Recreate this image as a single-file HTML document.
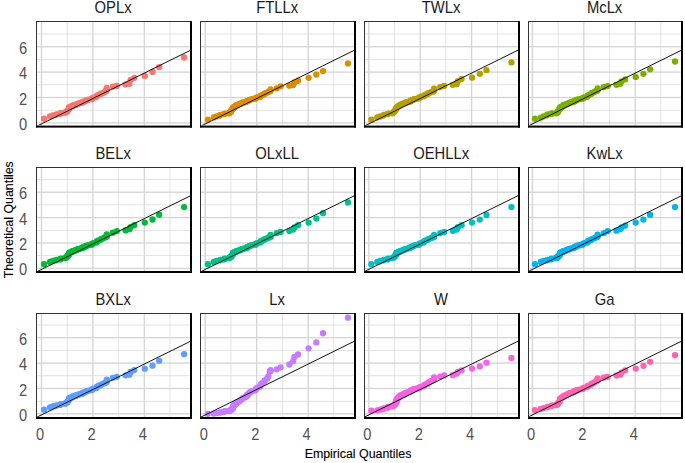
<!DOCTYPE html>
<html><head><meta charset="utf-8"><title>QQ plots</title>
<style>
html,body{margin:0;padding:0;background:#fff;}
body{width:685px;height:463px;overflow:hidden;position:relative;font-family:"Liberation Sans",sans-serif;}
svg{position:absolute;left:0;top:0;display:block;}
svg text{font-family:"Liberation Sans",sans-serif;}
</style></head><body>
<svg width="685" height="463" viewBox="0 0 685 463">
<rect x="0" y="0" width="685" height="463" fill="#ffffff"/>
<defs>
<clipPath id="cp00"><rect x="37" y="22" width="153" height="103.6"/></clipPath>
<clipPath id="cp01"><rect x="201" y="22" width="153" height="103.6"/></clipPath>
<clipPath id="cp02"><rect x="365" y="22" width="153" height="103.6"/></clipPath>
<clipPath id="cp03"><rect x="529" y="22" width="152" height="103.6"/></clipPath>
<clipPath id="cp10"><rect x="37" y="168" width="153" height="103"/></clipPath>
<clipPath id="cp11"><rect x="201" y="168" width="153" height="103"/></clipPath>
<clipPath id="cp12"><rect x="365" y="168" width="153" height="103"/></clipPath>
<clipPath id="cp13"><rect x="529" y="168" width="152" height="103"/></clipPath>
<clipPath id="cp20"><rect x="37" y="314" width="153" height="103"/></clipPath>
<clipPath id="cp21"><rect x="201" y="314" width="153" height="103"/></clipPath>
<clipPath id="cp22"><rect x="365" y="314" width="153" height="103"/></clipPath>
<clipPath id="cp23"><rect x="529" y="314" width="152" height="103"/></clipPath>
</defs>
<g clip-path="url(#cp00)"><rect x="36" y="122.25" width="154" height="1.3" fill="#D4D4D4"/><rect x="36" y="109.88" width="154" height="0.65" fill="#D4D4D4"/><rect x="36" y="96.85" width="154" height="1.3" fill="#D4D4D4"/><rect x="36" y="84.48" width="154" height="0.65" fill="#D4D4D4"/><rect x="36" y="71.45" width="154" height="1.3" fill="#D4D4D4"/><rect x="36" y="59.08" width="154" height="0.65" fill="#D4D4D4"/><rect x="36" y="46.05" width="154" height="1.3" fill="#D4D4D4"/><rect x="36" y="33.68" width="154" height="0.65" fill="#D4D4D4"/><rect x="36" y="20.65" width="154" height="1.3" fill="#D4D4D4"/><rect x="40.85" y="21" width="1.3" height="104.6" fill="#D4D4D4"/><rect x="66.88" y="21" width="0.65" height="104.6" fill="#D4D4D4"/><rect x="92.25" y="21" width="1.3" height="104.6" fill="#D4D4D4"/><rect x="118.27" y="21" width="0.65" height="104.6" fill="#D4D4D4"/><rect x="143.65" y="21" width="1.3" height="104.6" fill="#D4D4D4"/><rect x="169.68" y="21" width="0.65" height="104.6" fill="#D4D4D4"/></g>
<g clip-path="url(#cp00)" fill="#F8766D"><circle cx="44.07" cy="118.70" r="3.15"/><circle cx="49.98" cy="116.42" r="3.15"/><circle cx="52.81" cy="115.49" r="3.15"/><circle cx="55.89" cy="114.80" r="3.15"/><circle cx="56.66" cy="114.37" r="3.15"/><circle cx="60.00" cy="113.94" r="3.15"/><circle cx="60.52" cy="113.50" r="3.15"/><circle cx="61.29" cy="113.07" r="3.15"/><circle cx="65.14" cy="112.71" r="3.15"/><circle cx="65.40" cy="112.36" r="3.15"/><circle cx="66.17" cy="112.02" r="3.15"/><circle cx="67.20" cy="111.54" r="3.15"/><circle cx="67.20" cy="110.93" r="3.15"/><circle cx="67.71" cy="110.33" r="3.15"/><circle cx="68.48" cy="109.72" r="3.15"/><circle cx="69.00" cy="109.12" r="3.15"/><circle cx="69.00" cy="108.51" r="3.15"/><circle cx="69.26" cy="107.91" r="3.15"/><circle cx="69.26" cy="107.69" r="3.15"/><circle cx="69.26" cy="107.47" r="3.15"/><circle cx="69.51" cy="107.25" r="3.15"/><circle cx="70.28" cy="107.03" r="3.15"/><circle cx="70.54" cy="106.82" r="3.15"/><circle cx="71.05" cy="106.60" r="3.15"/><circle cx="71.31" cy="106.38" r="3.15"/><circle cx="72.34" cy="106.17" r="3.15"/><circle cx="72.60" cy="105.96" r="3.15"/><circle cx="72.85" cy="105.75" r="3.15"/><circle cx="72.85" cy="105.54" r="3.15"/><circle cx="73.37" cy="105.32" r="3.15"/><circle cx="74.91" cy="105.11" r="3.15"/><circle cx="75.94" cy="104.75" r="3.15"/><circle cx="76.45" cy="104.38" r="3.15"/><circle cx="77.22" cy="104.02" r="3.15"/><circle cx="78.51" cy="103.65" r="3.15"/><circle cx="79.02" cy="103.29" r="3.15"/><circle cx="80.82" cy="102.93" r="3.15"/><circle cx="82.36" cy="102.59" r="3.15"/><circle cx="82.62" cy="102.25" r="3.15"/><circle cx="83.39" cy="101.91" r="3.15"/><circle cx="83.39" cy="101.57" r="3.15"/><circle cx="84.68" cy="101.23" r="3.15"/><circle cx="85.45" cy="100.88" r="3.15"/><circle cx="85.70" cy="100.54" r="3.15"/><circle cx="86.73" cy="100.17" r="3.15"/><circle cx="88.53" cy="99.70" r="3.15"/><circle cx="91.61" cy="99.22" r="3.15"/><circle cx="91.87" cy="98.75" r="3.15"/><circle cx="92.13" cy="98.28" r="3.15"/><circle cx="93.41" cy="97.73" r="3.15"/><circle cx="96.24" cy="97.04" r="3.15"/><circle cx="96.75" cy="96.36" r="3.15"/><circle cx="97.01" cy="95.68" r="3.15"/><circle cx="98.55" cy="95.00" r="3.15"/><circle cx="100.61" cy="94.32" r="3.15"/><circle cx="100.87" cy="93.55" r="3.15"/><circle cx="103.18" cy="92.79" r="3.15"/><circle cx="104.47" cy="92.03" r="3.15"/><circle cx="106.01" cy="91.14" r="3.15"/><circle cx="106.52" cy="90.25" r="3.15"/><circle cx="106.78" cy="89.36" r="3.15"/><circle cx="106.78" cy="87.97" r="3.15"/><circle cx="112.95" cy="86.57" r="3.15"/><circle cx="116.80" cy="85.94" r="3.15"/><circle cx="125.54" cy="84.41" r="3.15"/><circle cx="129.39" cy="83.78" r="3.15"/><circle cx="130.68" cy="79.84" r="3.15"/><circle cx="134.28" cy="77.87" r="3.15"/><circle cx="144.81" cy="75.90" r="3.15"/><circle cx="152.52" cy="71.97" r="3.15"/><circle cx="159.21" cy="67.08" r="3.15"/><circle cx="184.13" cy="57.49" r="3.15"/></g>
<g clip-path="url(#cp00)"><line x1="31.22" y1="128.98" x2="200.84" y2="45.16" stroke="#111" stroke-width="1"/></g>
<g fill="#1a1a1a"><rect x="36" y="21" width="1" height="106.6" fill="#333"/><rect x="36" y="21" width="156" height="1" fill="#333"/><rect x="190" y="21" width="2" height="106.6" fill="#000"/><rect x="36" y="125.6" width="156" height="2" fill="#000"/></g>
<text transform="translate(113.10,12.90) scale(1,1.12)" font-size="14.8" fill="#1a1a1a" text-anchor="middle">OPLx</text>
<text transform="translate(27.20,129.90) scale(1,1.12)" font-size="14.67" fill="#525252" text-anchor="end">0</text>
<text transform="translate(27.20,104.50) scale(1,1.12)" font-size="14.67" fill="#525252" text-anchor="end">2</text>
<text transform="translate(27.20,79.10) scale(1,1.12)" font-size="14.67" fill="#525252" text-anchor="end">4</text>
<text transform="translate(27.20,53.70) scale(1,1.12)" font-size="14.67" fill="#525252" text-anchor="end">6</text>
<g clip-path="url(#cp01)"><rect x="200" y="122.25" width="154" height="1.3" fill="#D4D4D4"/><rect x="200" y="109.88" width="154" height="0.65" fill="#D4D4D4"/><rect x="200" y="96.85" width="154" height="1.3" fill="#D4D4D4"/><rect x="200" y="84.48" width="154" height="0.65" fill="#D4D4D4"/><rect x="200" y="71.45" width="154" height="1.3" fill="#D4D4D4"/><rect x="200" y="59.08" width="154" height="0.65" fill="#D4D4D4"/><rect x="200" y="46.05" width="154" height="1.3" fill="#D4D4D4"/><rect x="200" y="33.68" width="154" height="0.65" fill="#D4D4D4"/><rect x="200" y="20.65" width="154" height="1.3" fill="#D4D4D4"/><rect x="204.65" y="21" width="1.3" height="104.6" fill="#D4D4D4"/><rect x="230.68" y="21" width="0.65" height="104.6" fill="#D4D4D4"/><rect x="256.05" y="21" width="1.3" height="104.6" fill="#D4D4D4"/><rect x="282.07" y="21" width="0.65" height="104.6" fill="#D4D4D4"/><rect x="307.45" y="21" width="1.3" height="104.6" fill="#D4D4D4"/><rect x="333.48" y="21" width="0.65" height="104.6" fill="#D4D4D4"/></g>
<g clip-path="url(#cp01)" fill="#DE8C00"><circle cx="207.87" cy="119.72" r="3.15"/><circle cx="213.78" cy="117.43" r="3.15"/><circle cx="216.61" cy="116.41" r="3.15"/><circle cx="219.69" cy="115.56" r="3.15"/><circle cx="220.46" cy="114.85" r="3.15"/><circle cx="223.80" cy="114.21" r="3.15"/><circle cx="224.32" cy="113.89" r="3.15"/><circle cx="225.09" cy="113.58" r="3.15"/><circle cx="228.94" cy="113.26" r="3.15"/><circle cx="229.20" cy="112.94" r="3.15"/><circle cx="229.97" cy="112.48" r="3.15"/><circle cx="231.00" cy="111.72" r="3.15"/><circle cx="231.00" cy="110.95" r="3.15"/><circle cx="231.51" cy="110.19" r="3.15"/><circle cx="232.29" cy="109.43" r="3.15"/><circle cx="232.80" cy="108.91" r="3.15"/><circle cx="232.80" cy="108.63" r="3.15"/><circle cx="233.06" cy="108.35" r="3.15"/><circle cx="233.06" cy="108.07" r="3.15"/><circle cx="233.06" cy="107.79" r="3.15"/><circle cx="233.31" cy="107.50" r="3.15"/><circle cx="234.08" cy="107.22" r="3.15"/><circle cx="234.34" cy="106.94" r="3.15"/><circle cx="234.86" cy="106.66" r="3.15"/><circle cx="235.11" cy="106.38" r="3.15"/><circle cx="236.14" cy="106.07" r="3.15"/><circle cx="236.40" cy="105.76" r="3.15"/><circle cx="236.65" cy="105.44" r="3.15"/><circle cx="236.65" cy="105.13" r="3.15"/><circle cx="237.17" cy="104.82" r="3.15"/><circle cx="238.71" cy="104.51" r="3.15"/><circle cx="239.74" cy="104.16" r="3.15"/><circle cx="240.25" cy="103.78" r="3.15"/><circle cx="241.02" cy="103.40" r="3.15"/><circle cx="242.31" cy="103.02" r="3.15"/><circle cx="242.82" cy="102.64" r="3.15"/><circle cx="244.62" cy="102.27" r="3.15"/><circle cx="246.16" cy="101.93" r="3.15"/><circle cx="246.42" cy="101.59" r="3.15"/><circle cx="247.19" cy="101.26" r="3.15"/><circle cx="247.19" cy="100.92" r="3.15"/><circle cx="248.48" cy="100.58" r="3.15"/><circle cx="249.25" cy="100.24" r="3.15"/><circle cx="249.50" cy="99.90" r="3.15"/><circle cx="250.53" cy="99.55" r="3.15"/><circle cx="252.33" cy="99.16" r="3.15"/><circle cx="255.42" cy="98.77" r="3.15"/><circle cx="255.67" cy="98.37" r="3.15"/><circle cx="255.93" cy="97.98" r="3.15"/><circle cx="257.21" cy="97.50" r="3.15"/><circle cx="260.04" cy="96.88" r="3.15"/><circle cx="260.56" cy="96.26" r="3.15"/><circle cx="260.81" cy="95.65" r="3.15"/><circle cx="262.35" cy="95.03" r="3.15"/><circle cx="264.41" cy="94.26" r="3.15"/><circle cx="264.67" cy="93.46" r="3.15"/><circle cx="266.98" cy="92.67" r="3.15"/><circle cx="268.26" cy="91.93" r="3.15"/><circle cx="269.81" cy="91.41" r="3.15"/><circle cx="270.32" cy="90.90" r="3.15"/><circle cx="270.58" cy="90.38" r="3.15"/><circle cx="270.58" cy="89.36" r="3.15"/><circle cx="276.75" cy="88.35" r="3.15"/><circle cx="280.60" cy="86.32" r="3.15"/><circle cx="289.34" cy="85.68" r="3.15"/><circle cx="293.19" cy="85.05" r="3.15"/><circle cx="294.48" cy="82.38" r="3.15"/><circle cx="298.08" cy="80.73" r="3.15"/><circle cx="308.61" cy="77.87" r="3.15"/><circle cx="316.32" cy="74.57" r="3.15"/><circle cx="323.01" cy="71.08" r="3.15"/><circle cx="347.94" cy="63.46" r="3.15"/></g>
<g clip-path="url(#cp01)"><line x1="195.02" y1="128.98" x2="364.64" y2="45.16" stroke="#111" stroke-width="1"/></g>
<g fill="#1a1a1a"><rect x="200" y="21" width="1" height="106.6" fill="#333"/><rect x="200" y="21" width="156" height="1" fill="#333"/><rect x="354" y="21" width="2" height="106.6" fill="#000"/><rect x="200" y="125.6" width="156" height="2" fill="#000"/></g>
<text transform="translate(277.10,12.90) scale(1,1.12)" font-size="14.8" fill="#1a1a1a" text-anchor="middle">FTLLx</text>
<g clip-path="url(#cp02)"><rect x="364" y="122.25" width="154" height="1.3" fill="#D4D4D4"/><rect x="364" y="109.88" width="154" height="0.65" fill="#D4D4D4"/><rect x="364" y="96.85" width="154" height="1.3" fill="#D4D4D4"/><rect x="364" y="84.48" width="154" height="0.65" fill="#D4D4D4"/><rect x="364" y="71.45" width="154" height="1.3" fill="#D4D4D4"/><rect x="364" y="59.08" width="154" height="0.65" fill="#D4D4D4"/><rect x="364" y="46.05" width="154" height="1.3" fill="#D4D4D4"/><rect x="364" y="33.68" width="154" height="0.65" fill="#D4D4D4"/><rect x="364" y="20.65" width="154" height="1.3" fill="#D4D4D4"/><rect x="368.15" y="21" width="1.3" height="104.6" fill="#D4D4D4"/><rect x="394.18" y="21" width="0.65" height="104.6" fill="#D4D4D4"/><rect x="419.55" y="21" width="1.3" height="104.6" fill="#D4D4D4"/><rect x="445.57" y="21" width="0.65" height="104.6" fill="#D4D4D4"/><rect x="470.95" y="21" width="1.3" height="104.6" fill="#D4D4D4"/><rect x="496.98" y="21" width="0.65" height="104.6" fill="#D4D4D4"/></g>
<g clip-path="url(#cp02)" fill="#B79F00"><circle cx="371.37" cy="119.72" r="3.15"/><circle cx="377.28" cy="117.43" r="3.15"/><circle cx="380.11" cy="116.41" r="3.15"/><circle cx="383.19" cy="115.56" r="3.15"/><circle cx="383.96" cy="114.85" r="3.15"/><circle cx="387.30" cy="114.21" r="3.15"/><circle cx="387.82" cy="113.89" r="3.15"/><circle cx="388.59" cy="113.58" r="3.15"/><circle cx="392.44" cy="113.26" r="3.15"/><circle cx="392.70" cy="112.94" r="3.15"/><circle cx="393.47" cy="112.48" r="3.15"/><circle cx="394.50" cy="111.72" r="3.15"/><circle cx="394.50" cy="110.95" r="3.15"/><circle cx="395.01" cy="110.19" r="3.15"/><circle cx="395.79" cy="109.43" r="3.15"/><circle cx="396.30" cy="108.89" r="3.15"/><circle cx="396.30" cy="108.57" r="3.15"/><circle cx="396.56" cy="108.25" r="3.15"/><circle cx="396.56" cy="107.93" r="3.15"/><circle cx="396.56" cy="107.60" r="3.15"/><circle cx="396.81" cy="107.28" r="3.15"/><circle cx="397.58" cy="106.96" r="3.15"/><circle cx="397.84" cy="106.64" r="3.15"/><circle cx="398.36" cy="106.32" r="3.15"/><circle cx="398.61" cy="106.00" r="3.15"/><circle cx="399.64" cy="105.71" r="3.15"/><circle cx="399.90" cy="105.41" r="3.15"/><circle cx="400.15" cy="105.12" r="3.15"/><circle cx="400.15" cy="104.83" r="3.15"/><circle cx="400.67" cy="104.54" r="3.15"/><circle cx="402.21" cy="104.24" r="3.15"/><circle cx="403.24" cy="103.91" r="3.15"/><circle cx="403.75" cy="103.53" r="3.15"/><circle cx="404.52" cy="103.15" r="3.15"/><circle cx="405.81" cy="102.77" r="3.15"/><circle cx="406.32" cy="102.39" r="3.15"/><circle cx="408.12" cy="102.02" r="3.15"/><circle cx="409.66" cy="101.68" r="3.15"/><circle cx="409.92" cy="101.34" r="3.15"/><circle cx="410.69" cy="101.00" r="3.15"/><circle cx="410.69" cy="100.66" r="3.15"/><circle cx="411.98" cy="100.33" r="3.15"/><circle cx="412.75" cy="99.99" r="3.15"/><circle cx="413.00" cy="99.65" r="3.15"/><circle cx="414.03" cy="99.29" r="3.15"/><circle cx="415.83" cy="98.84" r="3.15"/><circle cx="418.92" cy="98.39" r="3.15"/><circle cx="419.17" cy="97.95" r="3.15"/><circle cx="419.43" cy="97.50" r="3.15"/><circle cx="420.71" cy="97.00" r="3.15"/><circle cx="423.54" cy="96.41" r="3.15"/><circle cx="424.06" cy="95.82" r="3.15"/><circle cx="424.31" cy="95.23" r="3.15"/><circle cx="425.85" cy="94.64" r="3.15"/><circle cx="427.91" cy="93.97" r="3.15"/><circle cx="428.17" cy="93.27" r="3.15"/><circle cx="430.48" cy="92.58" r="3.15"/><circle cx="431.76" cy="91.93" r="3.15"/><circle cx="433.31" cy="91.41" r="3.15"/><circle cx="433.82" cy="90.90" r="3.15"/><circle cx="434.08" cy="90.38" r="3.15"/><circle cx="434.08" cy="88.73" r="3.15"/><circle cx="440.25" cy="87.08" r="3.15"/><circle cx="444.10" cy="85.94" r="3.15"/><circle cx="452.84" cy="84.79" r="3.15"/><circle cx="456.69" cy="84.16" r="3.15"/><circle cx="457.98" cy="81.11" r="3.15"/><circle cx="461.58" cy="79.08" r="3.15"/><circle cx="472.11" cy="77.68" r="3.15"/><circle cx="479.82" cy="73.87" r="3.15"/><circle cx="486.51" cy="70.19" r="3.15"/><circle cx="511.44" cy="62.44" r="3.15"/></g>
<g clip-path="url(#cp02)"><line x1="358.52" y1="128.98" x2="528.14" y2="45.16" stroke="#111" stroke-width="1"/></g>
<g fill="#1a1a1a"><rect x="364" y="21" width="1" height="106.6" fill="#333"/><rect x="364" y="21" width="156" height="1" fill="#333"/><rect x="518" y="21" width="2" height="106.6" fill="#000"/><rect x="364" y="125.6" width="156" height="2" fill="#000"/></g>
<text transform="translate(441.10,12.90) scale(1,1.12)" font-size="14.8" fill="#1a1a1a" text-anchor="middle">TWLx</text>
<g clip-path="url(#cp03)"><rect x="528" y="122.25" width="153" height="1.3" fill="#D4D4D4"/><rect x="528" y="109.88" width="153" height="0.65" fill="#D4D4D4"/><rect x="528" y="96.85" width="153" height="1.3" fill="#D4D4D4"/><rect x="528" y="84.48" width="153" height="0.65" fill="#D4D4D4"/><rect x="528" y="71.45" width="153" height="1.3" fill="#D4D4D4"/><rect x="528" y="59.08" width="153" height="0.65" fill="#D4D4D4"/><rect x="528" y="46.05" width="153" height="1.3" fill="#D4D4D4"/><rect x="528" y="33.68" width="153" height="0.65" fill="#D4D4D4"/><rect x="528" y="20.65" width="153" height="1.3" fill="#D4D4D4"/><rect x="531.75" y="21" width="1.3" height="104.6" fill="#D4D4D4"/><rect x="557.77" y="21" width="0.65" height="104.6" fill="#D4D4D4"/><rect x="583.15" y="21" width="1.3" height="104.6" fill="#D4D4D4"/><rect x="609.17" y="21" width="0.65" height="104.6" fill="#D4D4D4"/><rect x="634.55" y="21" width="1.3" height="104.6" fill="#D4D4D4"/><rect x="660.57" y="21" width="0.65" height="104.6" fill="#D4D4D4"/></g>
<g clip-path="url(#cp03)" fill="#7CAE00"><circle cx="534.97" cy="118.70" r="3.15"/><circle cx="540.88" cy="117.56" r="3.15"/><circle cx="543.71" cy="116.29" r="3.15"/><circle cx="546.79" cy="115.27" r="3.15"/><circle cx="547.56" cy="114.52" r="3.15"/><circle cx="550.90" cy="113.85" r="3.15"/><circle cx="551.42" cy="113.66" r="3.15"/><circle cx="552.19" cy="113.48" r="3.15"/><circle cx="556.04" cy="113.29" r="3.15"/><circle cx="556.30" cy="113.11" r="3.15"/><circle cx="557.07" cy="112.71" r="3.15"/><circle cx="558.10" cy="111.90" r="3.15"/><circle cx="558.10" cy="111.08" r="3.15"/><circle cx="558.61" cy="110.27" r="3.15"/><circle cx="559.38" cy="109.46" r="3.15"/><circle cx="559.90" cy="108.91" r="3.15"/><circle cx="559.90" cy="108.63" r="3.15"/><circle cx="560.16" cy="108.35" r="3.15"/><circle cx="560.16" cy="108.07" r="3.15"/><circle cx="560.16" cy="107.79" r="3.15"/><circle cx="560.41" cy="107.50" r="3.15"/><circle cx="561.18" cy="107.22" r="3.15"/><circle cx="561.44" cy="106.94" r="3.15"/><circle cx="561.95" cy="106.66" r="3.15"/><circle cx="562.21" cy="106.38" r="3.15"/><circle cx="563.24" cy="106.07" r="3.15"/><circle cx="563.50" cy="105.76" r="3.15"/><circle cx="563.75" cy="105.44" r="3.15"/><circle cx="563.75" cy="105.13" r="3.15"/><circle cx="564.27" cy="104.82" r="3.15"/><circle cx="565.81" cy="104.51" r="3.15"/><circle cx="566.84" cy="104.16" r="3.15"/><circle cx="567.35" cy="103.78" r="3.15"/><circle cx="568.12" cy="103.40" r="3.15"/><circle cx="569.41" cy="103.02" r="3.15"/><circle cx="569.92" cy="102.64" r="3.15"/><circle cx="571.72" cy="102.27" r="3.15"/><circle cx="573.26" cy="101.93" r="3.15"/><circle cx="573.52" cy="101.59" r="3.15"/><circle cx="574.29" cy="101.26" r="3.15"/><circle cx="574.29" cy="100.92" r="3.15"/><circle cx="575.58" cy="100.58" r="3.15"/><circle cx="576.35" cy="100.24" r="3.15"/><circle cx="576.60" cy="99.90" r="3.15"/><circle cx="577.63" cy="99.55" r="3.15"/><circle cx="579.43" cy="99.16" r="3.15"/><circle cx="582.51" cy="98.77" r="3.15"/><circle cx="582.77" cy="98.37" r="3.15"/><circle cx="583.03" cy="97.98" r="3.15"/><circle cx="584.31" cy="97.46" r="3.15"/><circle cx="587.14" cy="96.76" r="3.15"/><circle cx="587.65" cy="96.06" r="3.15"/><circle cx="587.91" cy="95.36" r="3.15"/><circle cx="589.45" cy="94.66" r="3.15"/><circle cx="591.51" cy="93.81" r="3.15"/><circle cx="591.77" cy="92.95" r="3.15"/><circle cx="594.08" cy="92.09" r="3.15"/><circle cx="595.37" cy="91.29" r="3.15"/><circle cx="596.91" cy="90.78" r="3.15"/><circle cx="597.42" cy="90.26" r="3.15"/><circle cx="597.68" cy="89.75" r="3.15"/><circle cx="597.68" cy="88.41" r="3.15"/><circle cx="603.85" cy="87.08" r="3.15"/><circle cx="607.70" cy="86.06" r="3.15"/><circle cx="616.44" cy="84.79" r="3.15"/><circle cx="620.29" cy="83.78" r="3.15"/><circle cx="621.58" cy="81.49" r="3.15"/><circle cx="625.18" cy="79.46" r="3.15"/><circle cx="635.71" cy="76.92" r="3.15"/><circle cx="643.42" cy="73.87" r="3.15"/><circle cx="650.11" cy="69.30" r="3.15"/><circle cx="675.03" cy="61.49" r="3.15"/></g>
<g clip-path="url(#cp03)"><line x1="522.12" y1="128.98" x2="691.74" y2="45.16" stroke="#111" stroke-width="1"/></g>
<g fill="#1a1a1a"><rect x="528" y="21" width="1" height="106.6" fill="#333"/><rect x="528" y="21" width="155" height="1" fill="#333"/><rect x="681" y="21" width="2" height="106.6" fill="#000"/><rect x="528" y="125.6" width="155" height="2" fill="#000"/></g>
<text transform="translate(604.60,12.90) scale(1,1.12)" font-size="14.8" fill="#1a1a1a" text-anchor="middle">McLx</text>
<g clip-path="url(#cp10)"><rect x="36" y="267.75" width="154" height="1.3" fill="#D4D4D4"/><rect x="36" y="255.38" width="154" height="0.65" fill="#D4D4D4"/><rect x="36" y="242.35" width="154" height="1.3" fill="#D4D4D4"/><rect x="36" y="229.97" width="154" height="0.65" fill="#D4D4D4"/><rect x="36" y="216.95" width="154" height="1.3" fill="#D4D4D4"/><rect x="36" y="204.57" width="154" height="0.65" fill="#D4D4D4"/><rect x="36" y="191.55" width="154" height="1.3" fill="#D4D4D4"/><rect x="36" y="179.18" width="154" height="0.65" fill="#D4D4D4"/><rect x="36" y="166.15" width="154" height="1.3" fill="#D4D4D4"/><rect x="40.85" y="167" width="1.3" height="104" fill="#D4D4D4"/><rect x="66.88" y="167" width="0.65" height="104" fill="#D4D4D4"/><rect x="92.25" y="167" width="1.3" height="104" fill="#D4D4D4"/><rect x="118.27" y="167" width="0.65" height="104" fill="#D4D4D4"/><rect x="143.65" y="167" width="1.3" height="104" fill="#D4D4D4"/><rect x="169.68" y="167" width="0.65" height="104" fill="#D4D4D4"/></g>
<g clip-path="url(#cp10)" fill="#00BA38"><circle cx="44.07" cy="264.20" r="3.15"/><circle cx="49.98" cy="261.92" r="3.15"/><circle cx="52.81" cy="260.99" r="3.15"/><circle cx="55.89" cy="260.30" r="3.15"/><circle cx="56.66" cy="259.87" r="3.15"/><circle cx="60.00" cy="259.44" r="3.15"/><circle cx="60.52" cy="259.00" r="3.15"/><circle cx="61.29" cy="258.57" r="3.15"/><circle cx="65.14" cy="258.21" r="3.15"/><circle cx="65.40" cy="257.86" r="3.15"/><circle cx="66.17" cy="257.52" r="3.15"/><circle cx="67.20" cy="257.04" r="3.15"/><circle cx="67.20" cy="256.43" r="3.15"/><circle cx="67.71" cy="255.83" r="3.15"/><circle cx="68.48" cy="255.22" r="3.15"/><circle cx="69.00" cy="254.62" r="3.15"/><circle cx="69.00" cy="254.01" r="3.15"/><circle cx="69.26" cy="253.41" r="3.15"/><circle cx="69.26" cy="253.19" r="3.15"/><circle cx="69.26" cy="252.97" r="3.15"/><circle cx="69.51" cy="252.75" r="3.15"/><circle cx="70.28" cy="252.53" r="3.15"/><circle cx="70.54" cy="252.32" r="3.15"/><circle cx="71.05" cy="252.10" r="3.15"/><circle cx="71.31" cy="251.88" r="3.15"/><circle cx="72.34" cy="251.67" r="3.15"/><circle cx="72.60" cy="251.46" r="3.15"/><circle cx="72.85" cy="251.25" r="3.15"/><circle cx="72.85" cy="251.04" r="3.15"/><circle cx="73.37" cy="250.82" r="3.15"/><circle cx="74.91" cy="250.61" r="3.15"/><circle cx="75.94" cy="250.25" r="3.15"/><circle cx="76.45" cy="249.88" r="3.15"/><circle cx="77.22" cy="249.52" r="3.15"/><circle cx="78.51" cy="249.15" r="3.15"/><circle cx="79.02" cy="248.79" r="3.15"/><circle cx="80.82" cy="248.43" r="3.15"/><circle cx="82.36" cy="248.09" r="3.15"/><circle cx="82.62" cy="247.75" r="3.15"/><circle cx="83.39" cy="247.41" r="3.15"/><circle cx="83.39" cy="247.07" r="3.15"/><circle cx="84.68" cy="246.73" r="3.15"/><circle cx="85.45" cy="246.38" r="3.15"/><circle cx="85.70" cy="246.04" r="3.15"/><circle cx="86.73" cy="245.67" r="3.15"/><circle cx="88.53" cy="245.20" r="3.15"/><circle cx="91.61" cy="244.72" r="3.15"/><circle cx="91.87" cy="244.25" r="3.15"/><circle cx="92.13" cy="243.78" r="3.15"/><circle cx="93.41" cy="243.23" r="3.15"/><circle cx="96.24" cy="242.54" r="3.15"/><circle cx="96.75" cy="241.86" r="3.15"/><circle cx="97.01" cy="241.18" r="3.15"/><circle cx="98.55" cy="240.50" r="3.15"/><circle cx="100.61" cy="239.82" r="3.15"/><circle cx="100.87" cy="239.05" r="3.15"/><circle cx="103.18" cy="238.29" r="3.15"/><circle cx="104.47" cy="237.53" r="3.15"/><circle cx="106.01" cy="237.11" r="3.15"/><circle cx="106.52" cy="236.68" r="3.15"/><circle cx="106.78" cy="236.26" r="3.15"/><circle cx="106.78" cy="234.48" r="3.15"/><circle cx="112.95" cy="232.70" r="3.15"/><circle cx="116.80" cy="231.05" r="3.15"/><circle cx="125.54" cy="230.42" r="3.15"/><circle cx="129.39" cy="229.15" r="3.15"/><circle cx="130.68" cy="227.12" r="3.15"/><circle cx="134.28" cy="225.21" r="3.15"/><circle cx="144.81" cy="222.54" r="3.15"/><circle cx="152.52" cy="219.50" r="3.15"/><circle cx="159.21" cy="214.67" r="3.15"/><circle cx="184.13" cy="207.05" r="3.15"/></g>
<g clip-path="url(#cp10)"><line x1="31.22" y1="274.48" x2="200.84" y2="190.66" stroke="#111" stroke-width="1"/></g>
<g fill="#1a1a1a"><rect x="36" y="167" width="1" height="106" fill="#333"/><rect x="36" y="167" width="156" height="1" fill="#333"/><rect x="190" y="167" width="2" height="106" fill="#000"/><rect x="36" y="271" width="156" height="2" fill="#000"/></g>
<text transform="translate(113.10,158.90) scale(1,1.12)" font-size="14.8" fill="#1a1a1a" text-anchor="middle">BELx</text>
<text transform="translate(27.20,275.40) scale(1,1.12)" font-size="14.67" fill="#525252" text-anchor="end">0</text>
<text transform="translate(27.20,250.00) scale(1,1.12)" font-size="14.67" fill="#525252" text-anchor="end">2</text>
<text transform="translate(27.20,224.60) scale(1,1.12)" font-size="14.67" fill="#525252" text-anchor="end">4</text>
<text transform="translate(27.20,199.20) scale(1,1.12)" font-size="14.67" fill="#525252" text-anchor="end">6</text>
<g clip-path="url(#cp11)"><rect x="200" y="267.75" width="154" height="1.3" fill="#D4D4D4"/><rect x="200" y="255.38" width="154" height="0.65" fill="#D4D4D4"/><rect x="200" y="242.35" width="154" height="1.3" fill="#D4D4D4"/><rect x="200" y="229.97" width="154" height="0.65" fill="#D4D4D4"/><rect x="200" y="216.95" width="154" height="1.3" fill="#D4D4D4"/><rect x="200" y="204.57" width="154" height="0.65" fill="#D4D4D4"/><rect x="200" y="191.55" width="154" height="1.3" fill="#D4D4D4"/><rect x="200" y="179.18" width="154" height="0.65" fill="#D4D4D4"/><rect x="200" y="166.15" width="154" height="1.3" fill="#D4D4D4"/><rect x="204.65" y="167" width="1.3" height="104" fill="#D4D4D4"/><rect x="230.68" y="167" width="0.65" height="104" fill="#D4D4D4"/><rect x="256.05" y="167" width="1.3" height="104" fill="#D4D4D4"/><rect x="282.07" y="167" width="0.65" height="104" fill="#D4D4D4"/><rect x="307.45" y="167" width="1.3" height="104" fill="#D4D4D4"/><rect x="333.48" y="167" width="0.65" height="104" fill="#D4D4D4"/></g>
<g clip-path="url(#cp11)" fill="#00C08B"><circle cx="207.87" cy="264.20" r="3.15"/><circle cx="213.78" cy="261.92" r="3.15"/><circle cx="216.61" cy="260.99" r="3.15"/><circle cx="219.69" cy="260.30" r="3.15"/><circle cx="220.46" cy="259.87" r="3.15"/><circle cx="223.80" cy="259.44" r="3.15"/><circle cx="224.32" cy="259.00" r="3.15"/><circle cx="225.09" cy="258.57" r="3.15"/><circle cx="228.94" cy="258.21" r="3.15"/><circle cx="229.20" cy="257.86" r="3.15"/><circle cx="229.97" cy="257.52" r="3.15"/><circle cx="231.00" cy="257.04" r="3.15"/><circle cx="231.00" cy="256.43" r="3.15"/><circle cx="231.51" cy="255.83" r="3.15"/><circle cx="232.29" cy="255.22" r="3.15"/><circle cx="232.80" cy="254.62" r="3.15"/><circle cx="232.80" cy="254.01" r="3.15"/><circle cx="233.06" cy="253.41" r="3.15"/><circle cx="233.06" cy="253.19" r="3.15"/><circle cx="233.06" cy="252.97" r="3.15"/><circle cx="233.31" cy="252.75" r="3.15"/><circle cx="234.08" cy="252.53" r="3.15"/><circle cx="234.34" cy="252.32" r="3.15"/><circle cx="234.86" cy="252.10" r="3.15"/><circle cx="235.11" cy="251.88" r="3.15"/><circle cx="236.14" cy="251.67" r="3.15"/><circle cx="236.40" cy="251.46" r="3.15"/><circle cx="236.65" cy="251.25" r="3.15"/><circle cx="236.65" cy="251.04" r="3.15"/><circle cx="237.17" cy="250.82" r="3.15"/><circle cx="238.71" cy="250.61" r="3.15"/><circle cx="239.74" cy="250.25" r="3.15"/><circle cx="240.25" cy="249.88" r="3.15"/><circle cx="241.02" cy="249.52" r="3.15"/><circle cx="242.31" cy="249.15" r="3.15"/><circle cx="242.82" cy="248.79" r="3.15"/><circle cx="244.62" cy="248.43" r="3.15"/><circle cx="246.16" cy="248.09" r="3.15"/><circle cx="246.42" cy="247.75" r="3.15"/><circle cx="247.19" cy="247.41" r="3.15"/><circle cx="247.19" cy="247.07" r="3.15"/><circle cx="248.48" cy="246.73" r="3.15"/><circle cx="249.25" cy="246.38" r="3.15"/><circle cx="249.50" cy="246.04" r="3.15"/><circle cx="250.53" cy="245.67" r="3.15"/><circle cx="252.33" cy="245.20" r="3.15"/><circle cx="255.42" cy="244.72" r="3.15"/><circle cx="255.67" cy="244.25" r="3.15"/><circle cx="255.93" cy="243.78" r="3.15"/><circle cx="257.21" cy="243.23" r="3.15"/><circle cx="260.04" cy="242.54" r="3.15"/><circle cx="260.56" cy="241.86" r="3.15"/><circle cx="260.81" cy="241.18" r="3.15"/><circle cx="262.35" cy="240.50" r="3.15"/><circle cx="264.41" cy="239.82" r="3.15"/><circle cx="264.67" cy="239.05" r="3.15"/><circle cx="266.98" cy="238.29" r="3.15"/><circle cx="268.26" cy="237.53" r="3.15"/><circle cx="269.81" cy="237.23" r="3.15"/><circle cx="270.32" cy="236.94" r="3.15"/><circle cx="270.58" cy="236.64" r="3.15"/><circle cx="270.58" cy="234.86" r="3.15"/><circle cx="276.75" cy="233.09" r="3.15"/><circle cx="280.60" cy="231.94" r="3.15"/><circle cx="289.34" cy="231.05" r="3.15"/><circle cx="293.19" cy="229.53" r="3.15"/><circle cx="294.48" cy="227.50" r="3.15"/><circle cx="298.08" cy="225.21" r="3.15"/><circle cx="308.61" cy="222.54" r="3.15"/><circle cx="316.32" cy="218.61" r="3.15"/><circle cx="323.01" cy="213.15" r="3.15"/><circle cx="347.94" cy="202.48" r="3.15"/></g>
<g clip-path="url(#cp11)"><line x1="195.02" y1="274.48" x2="364.64" y2="190.66" stroke="#111" stroke-width="1"/></g>
<g fill="#1a1a1a"><rect x="200" y="167" width="1" height="106" fill="#333"/><rect x="200" y="167" width="156" height="1" fill="#333"/><rect x="354" y="167" width="2" height="106" fill="#000"/><rect x="200" y="271" width="156" height="2" fill="#000"/></g>
<text transform="translate(277.10,158.90) scale(1,1.12)" font-size="14.8" fill="#1a1a1a" text-anchor="middle">OLxLL</text>
<g clip-path="url(#cp12)"><rect x="364" y="267.75" width="154" height="1.3" fill="#D4D4D4"/><rect x="364" y="255.38" width="154" height="0.65" fill="#D4D4D4"/><rect x="364" y="242.35" width="154" height="1.3" fill="#D4D4D4"/><rect x="364" y="229.97" width="154" height="0.65" fill="#D4D4D4"/><rect x="364" y="216.95" width="154" height="1.3" fill="#D4D4D4"/><rect x="364" y="204.57" width="154" height="0.65" fill="#D4D4D4"/><rect x="364" y="191.55" width="154" height="1.3" fill="#D4D4D4"/><rect x="364" y="179.18" width="154" height="0.65" fill="#D4D4D4"/><rect x="364" y="166.15" width="154" height="1.3" fill="#D4D4D4"/><rect x="368.15" y="167" width="1.3" height="104" fill="#D4D4D4"/><rect x="394.18" y="167" width="0.65" height="104" fill="#D4D4D4"/><rect x="419.55" y="167" width="1.3" height="104" fill="#D4D4D4"/><rect x="445.57" y="167" width="0.65" height="104" fill="#D4D4D4"/><rect x="470.95" y="167" width="1.3" height="104" fill="#D4D4D4"/><rect x="496.98" y="167" width="0.65" height="104" fill="#D4D4D4"/></g>
<g clip-path="url(#cp12)" fill="#00BFC4"><circle cx="371.37" cy="264.20" r="3.15"/><circle cx="377.28" cy="261.92" r="3.15"/><circle cx="380.11" cy="260.99" r="3.15"/><circle cx="383.19" cy="260.30" r="3.15"/><circle cx="383.96" cy="259.87" r="3.15"/><circle cx="387.30" cy="259.44" r="3.15"/><circle cx="387.82" cy="259.00" r="3.15"/><circle cx="388.59" cy="258.57" r="3.15"/><circle cx="392.44" cy="258.21" r="3.15"/><circle cx="392.70" cy="257.86" r="3.15"/><circle cx="393.47" cy="257.52" r="3.15"/><circle cx="394.50" cy="257.04" r="3.15"/><circle cx="394.50" cy="256.43" r="3.15"/><circle cx="395.01" cy="255.83" r="3.15"/><circle cx="395.79" cy="255.22" r="3.15"/><circle cx="396.30" cy="254.62" r="3.15"/><circle cx="396.30" cy="254.01" r="3.15"/><circle cx="396.56" cy="253.41" r="3.15"/><circle cx="396.56" cy="253.19" r="3.15"/><circle cx="396.56" cy="252.97" r="3.15"/><circle cx="396.81" cy="252.75" r="3.15"/><circle cx="397.58" cy="252.53" r="3.15"/><circle cx="397.84" cy="252.32" r="3.15"/><circle cx="398.36" cy="252.10" r="3.15"/><circle cx="398.61" cy="251.88" r="3.15"/><circle cx="399.64" cy="251.67" r="3.15"/><circle cx="399.90" cy="251.46" r="3.15"/><circle cx="400.15" cy="251.25" r="3.15"/><circle cx="400.15" cy="251.04" r="3.15"/><circle cx="400.67" cy="250.82" r="3.15"/><circle cx="402.21" cy="250.61" r="3.15"/><circle cx="403.24" cy="250.25" r="3.15"/><circle cx="403.75" cy="249.88" r="3.15"/><circle cx="404.52" cy="249.52" r="3.15"/><circle cx="405.81" cy="249.15" r="3.15"/><circle cx="406.32" cy="248.79" r="3.15"/><circle cx="408.12" cy="248.43" r="3.15"/><circle cx="409.66" cy="248.09" r="3.15"/><circle cx="409.92" cy="247.75" r="3.15"/><circle cx="410.69" cy="247.41" r="3.15"/><circle cx="410.69" cy="247.07" r="3.15"/><circle cx="411.98" cy="246.73" r="3.15"/><circle cx="412.75" cy="246.38" r="3.15"/><circle cx="413.00" cy="246.04" r="3.15"/><circle cx="414.03" cy="245.67" r="3.15"/><circle cx="415.83" cy="245.20" r="3.15"/><circle cx="418.92" cy="244.72" r="3.15"/><circle cx="419.17" cy="244.25" r="3.15"/><circle cx="419.43" cy="243.78" r="3.15"/><circle cx="420.71" cy="243.23" r="3.15"/><circle cx="423.54" cy="242.54" r="3.15"/><circle cx="424.06" cy="241.86" r="3.15"/><circle cx="424.31" cy="241.18" r="3.15"/><circle cx="425.85" cy="240.50" r="3.15"/><circle cx="427.91" cy="239.82" r="3.15"/><circle cx="428.17" cy="239.05" r="3.15"/><circle cx="430.48" cy="238.29" r="3.15"/><circle cx="431.76" cy="237.53" r="3.15"/><circle cx="433.31" cy="237.23" r="3.15"/><circle cx="433.82" cy="236.94" r="3.15"/><circle cx="434.08" cy="236.64" r="3.15"/><circle cx="434.08" cy="234.86" r="3.15"/><circle cx="440.25" cy="233.09" r="3.15"/><circle cx="444.10" cy="231.94" r="3.15"/><circle cx="452.84" cy="230.80" r="3.15"/><circle cx="456.69" cy="229.53" r="3.15"/><circle cx="457.98" cy="227.12" r="3.15"/><circle cx="461.58" cy="225.21" r="3.15"/><circle cx="472.11" cy="222.54" r="3.15"/><circle cx="479.82" cy="219.62" r="3.15"/><circle cx="486.51" cy="214.92" r="3.15"/><circle cx="511.44" cy="207.05" r="3.15"/></g>
<g clip-path="url(#cp12)"><line x1="358.52" y1="274.48" x2="528.14" y2="190.66" stroke="#111" stroke-width="1"/></g>
<g fill="#1a1a1a"><rect x="364" y="167" width="1" height="106" fill="#333"/><rect x="364" y="167" width="156" height="1" fill="#333"/><rect x="518" y="167" width="2" height="106" fill="#000"/><rect x="364" y="271" width="156" height="2" fill="#000"/></g>
<text transform="translate(441.10,158.90) scale(1,1.12)" font-size="14.8" fill="#1a1a1a" text-anchor="middle">OEHLLx</text>
<g clip-path="url(#cp13)"><rect x="528" y="267.75" width="153" height="1.3" fill="#D4D4D4"/><rect x="528" y="255.38" width="153" height="0.65" fill="#D4D4D4"/><rect x="528" y="242.35" width="153" height="1.3" fill="#D4D4D4"/><rect x="528" y="229.97" width="153" height="0.65" fill="#D4D4D4"/><rect x="528" y="216.95" width="153" height="1.3" fill="#D4D4D4"/><rect x="528" y="204.57" width="153" height="0.65" fill="#D4D4D4"/><rect x="528" y="191.55" width="153" height="1.3" fill="#D4D4D4"/><rect x="528" y="179.18" width="153" height="0.65" fill="#D4D4D4"/><rect x="528" y="166.15" width="153" height="1.3" fill="#D4D4D4"/><rect x="531.75" y="167" width="1.3" height="104" fill="#D4D4D4"/><rect x="557.77" y="167" width="0.65" height="104" fill="#D4D4D4"/><rect x="583.15" y="167" width="1.3" height="104" fill="#D4D4D4"/><rect x="609.17" y="167" width="0.65" height="104" fill="#D4D4D4"/><rect x="634.55" y="167" width="1.3" height="104" fill="#D4D4D4"/><rect x="660.57" y="167" width="0.65" height="104" fill="#D4D4D4"/></g>
<g clip-path="url(#cp13)" fill="#00B4F0"><circle cx="534.97" cy="264.20" r="3.15"/><circle cx="540.88" cy="261.92" r="3.15"/><circle cx="543.71" cy="260.99" r="3.15"/><circle cx="546.79" cy="260.30" r="3.15"/><circle cx="547.56" cy="259.87" r="3.15"/><circle cx="550.90" cy="259.44" r="3.15"/><circle cx="551.42" cy="259.00" r="3.15"/><circle cx="552.19" cy="258.57" r="3.15"/><circle cx="556.04" cy="258.21" r="3.15"/><circle cx="556.30" cy="257.86" r="3.15"/><circle cx="557.07" cy="257.52" r="3.15"/><circle cx="558.10" cy="257.04" r="3.15"/><circle cx="558.10" cy="256.43" r="3.15"/><circle cx="558.61" cy="255.83" r="3.15"/><circle cx="559.38" cy="255.22" r="3.15"/><circle cx="559.90" cy="254.62" r="3.15"/><circle cx="559.90" cy="254.01" r="3.15"/><circle cx="560.16" cy="253.41" r="3.15"/><circle cx="560.16" cy="253.19" r="3.15"/><circle cx="560.16" cy="252.97" r="3.15"/><circle cx="560.41" cy="252.75" r="3.15"/><circle cx="561.18" cy="252.53" r="3.15"/><circle cx="561.44" cy="252.32" r="3.15"/><circle cx="561.95" cy="252.10" r="3.15"/><circle cx="562.21" cy="251.88" r="3.15"/><circle cx="563.24" cy="251.67" r="3.15"/><circle cx="563.50" cy="251.46" r="3.15"/><circle cx="563.75" cy="251.25" r="3.15"/><circle cx="563.75" cy="251.04" r="3.15"/><circle cx="564.27" cy="250.82" r="3.15"/><circle cx="565.81" cy="250.61" r="3.15"/><circle cx="566.84" cy="250.25" r="3.15"/><circle cx="567.35" cy="249.88" r="3.15"/><circle cx="568.12" cy="249.52" r="3.15"/><circle cx="569.41" cy="249.15" r="3.15"/><circle cx="569.92" cy="248.79" r="3.15"/><circle cx="571.72" cy="248.43" r="3.15"/><circle cx="573.26" cy="248.09" r="3.15"/><circle cx="573.52" cy="247.75" r="3.15"/><circle cx="574.29" cy="247.41" r="3.15"/><circle cx="574.29" cy="247.07" r="3.15"/><circle cx="575.58" cy="246.73" r="3.15"/><circle cx="576.35" cy="246.38" r="3.15"/><circle cx="576.60" cy="246.04" r="3.15"/><circle cx="577.63" cy="245.67" r="3.15"/><circle cx="579.43" cy="245.20" r="3.15"/><circle cx="582.51" cy="244.72" r="3.15"/><circle cx="582.77" cy="244.25" r="3.15"/><circle cx="583.03" cy="243.78" r="3.15"/><circle cx="584.31" cy="243.23" r="3.15"/><circle cx="587.14" cy="242.54" r="3.15"/><circle cx="587.65" cy="241.86" r="3.15"/><circle cx="587.91" cy="241.18" r="3.15"/><circle cx="589.45" cy="240.50" r="3.15"/><circle cx="591.51" cy="239.82" r="3.15"/><circle cx="591.77" cy="239.05" r="3.15"/><circle cx="594.08" cy="238.29" r="3.15"/><circle cx="595.37" cy="237.53" r="3.15"/><circle cx="596.91" cy="237.11" r="3.15"/><circle cx="597.42" cy="236.68" r="3.15"/><circle cx="597.68" cy="236.26" r="3.15"/><circle cx="597.68" cy="234.67" r="3.15"/><circle cx="603.85" cy="233.09" r="3.15"/><circle cx="607.70" cy="231.05" r="3.15"/><circle cx="616.44" cy="230.67" r="3.15"/><circle cx="620.29" cy="229.15" r="3.15"/><circle cx="621.58" cy="227.50" r="3.15"/><circle cx="625.18" cy="225.59" r="3.15"/><circle cx="635.71" cy="222.54" r="3.15"/><circle cx="643.42" cy="219.62" r="3.15"/><circle cx="650.11" cy="214.92" r="3.15"/><circle cx="675.03" cy="207.05" r="3.15"/></g>
<g clip-path="url(#cp13)"><line x1="522.12" y1="274.48" x2="691.74" y2="190.66" stroke="#111" stroke-width="1"/></g>
<g fill="#1a1a1a"><rect x="528" y="167" width="1" height="106" fill="#333"/><rect x="528" y="167" width="155" height="1" fill="#333"/><rect x="681" y="167" width="2" height="106" fill="#000"/><rect x="528" y="271" width="155" height="2" fill="#000"/></g>
<text transform="translate(604.60,158.90) scale(1,1.12)" font-size="14.8" fill="#1a1a1a" text-anchor="middle">KwLx</text>
<g clip-path="url(#cp20)"><rect x="36" y="413.25" width="154" height="1.3" fill="#D4D4D4"/><rect x="36" y="400.88" width="154" height="0.65" fill="#D4D4D4"/><rect x="36" y="387.85" width="154" height="1.3" fill="#D4D4D4"/><rect x="36" y="375.47" width="154" height="0.65" fill="#D4D4D4"/><rect x="36" y="362.45" width="154" height="1.3" fill="#D4D4D4"/><rect x="36" y="350.07" width="154" height="0.65" fill="#D4D4D4"/><rect x="36" y="337.05" width="154" height="1.3" fill="#D4D4D4"/><rect x="36" y="324.68" width="154" height="0.65" fill="#D4D4D4"/><rect x="36" y="311.65" width="154" height="1.3" fill="#D4D4D4"/><rect x="40.85" y="313" width="1.3" height="104" fill="#D4D4D4"/><rect x="66.88" y="313" width="0.65" height="104" fill="#D4D4D4"/><rect x="92.25" y="313" width="1.3" height="104" fill="#D4D4D4"/><rect x="118.27" y="313" width="0.65" height="104" fill="#D4D4D4"/><rect x="143.65" y="313" width="1.3" height="104" fill="#D4D4D4"/><rect x="169.68" y="313" width="0.65" height="104" fill="#D4D4D4"/></g>
<g clip-path="url(#cp20)" fill="#619CFF"><circle cx="44.07" cy="409.70" r="3.15"/><circle cx="49.98" cy="407.42" r="3.15"/><circle cx="52.81" cy="406.49" r="3.15"/><circle cx="55.89" cy="405.80" r="3.15"/><circle cx="56.66" cy="405.37" r="3.15"/><circle cx="60.00" cy="404.94" r="3.15"/><circle cx="60.52" cy="404.50" r="3.15"/><circle cx="61.29" cy="404.07" r="3.15"/><circle cx="65.14" cy="403.71" r="3.15"/><circle cx="65.40" cy="403.36" r="3.15"/><circle cx="66.17" cy="403.02" r="3.15"/><circle cx="67.20" cy="402.54" r="3.15"/><circle cx="67.20" cy="401.93" r="3.15"/><circle cx="67.71" cy="401.33" r="3.15"/><circle cx="68.48" cy="400.72" r="3.15"/><circle cx="69.00" cy="400.12" r="3.15"/><circle cx="69.00" cy="399.51" r="3.15"/><circle cx="69.26" cy="398.91" r="3.15"/><circle cx="69.26" cy="398.69" r="3.15"/><circle cx="69.26" cy="398.47" r="3.15"/><circle cx="69.51" cy="398.25" r="3.15"/><circle cx="70.28" cy="398.03" r="3.15"/><circle cx="70.54" cy="397.82" r="3.15"/><circle cx="71.05" cy="397.60" r="3.15"/><circle cx="71.31" cy="397.38" r="3.15"/><circle cx="72.34" cy="397.17" r="3.15"/><circle cx="72.60" cy="396.96" r="3.15"/><circle cx="72.85" cy="396.75" r="3.15"/><circle cx="72.85" cy="396.54" r="3.15"/><circle cx="73.37" cy="396.32" r="3.15"/><circle cx="74.91" cy="396.11" r="3.15"/><circle cx="75.94" cy="395.75" r="3.15"/><circle cx="76.45" cy="395.38" r="3.15"/><circle cx="77.22" cy="395.02" r="3.15"/><circle cx="78.51" cy="394.65" r="3.15"/><circle cx="79.02" cy="394.29" r="3.15"/><circle cx="80.82" cy="393.93" r="3.15"/><circle cx="82.36" cy="393.59" r="3.15"/><circle cx="82.62" cy="393.25" r="3.15"/><circle cx="83.39" cy="392.91" r="3.15"/><circle cx="83.39" cy="392.57" r="3.15"/><circle cx="84.68" cy="392.23" r="3.15"/><circle cx="85.45" cy="391.88" r="3.15"/><circle cx="85.70" cy="391.54" r="3.15"/><circle cx="86.73" cy="391.17" r="3.15"/><circle cx="88.53" cy="390.70" r="3.15"/><circle cx="91.61" cy="390.22" r="3.15"/><circle cx="91.87" cy="389.75" r="3.15"/><circle cx="92.13" cy="389.28" r="3.15"/><circle cx="93.41" cy="388.73" r="3.15"/><circle cx="96.24" cy="388.04" r="3.15"/><circle cx="96.75" cy="387.36" r="3.15"/><circle cx="97.01" cy="386.68" r="3.15"/><circle cx="98.55" cy="386.00" r="3.15"/><circle cx="100.61" cy="385.32" r="3.15"/><circle cx="100.87" cy="384.55" r="3.15"/><circle cx="103.18" cy="383.79" r="3.15"/><circle cx="104.47" cy="383.03" r="3.15"/><circle cx="106.01" cy="382.48" r="3.15"/><circle cx="106.52" cy="381.93" r="3.15"/><circle cx="106.78" cy="381.38" r="3.15"/><circle cx="106.78" cy="379.60" r="3.15"/><circle cx="112.95" cy="377.82" r="3.15"/><circle cx="116.80" cy="376.81" r="3.15"/><circle cx="125.54" cy="375.28" r="3.15"/><circle cx="129.39" cy="374.65" r="3.15"/><circle cx="130.68" cy="371.98" r="3.15"/><circle cx="134.28" cy="370.08" r="3.15"/><circle cx="144.81" cy="368.68" r="3.15"/><circle cx="152.52" cy="365.70" r="3.15"/><circle cx="159.21" cy="360.81" r="3.15"/><circle cx="184.13" cy="354.20" r="3.15"/></g>
<g clip-path="url(#cp20)"><line x1="31.22" y1="419.98" x2="200.84" y2="336.16" stroke="#111" stroke-width="1"/></g>
<g fill="#1a1a1a"><rect x="36" y="313" width="1" height="106" fill="#333"/><rect x="36" y="313" width="156" height="1" fill="#333"/><rect x="190" y="313" width="2" height="106" fill="#000"/><rect x="36" y="417" width="156" height="2" fill="#000"/></g>
<text transform="translate(113.10,304.90) scale(1,1.12)" font-size="14.8" fill="#1a1a1a" text-anchor="middle">BXLx</text>
<text transform="translate(27.20,420.90) scale(1,1.12)" font-size="14.67" fill="#525252" text-anchor="end">0</text>
<text transform="translate(27.20,395.50) scale(1,1.12)" font-size="14.67" fill="#525252" text-anchor="end">2</text>
<text transform="translate(27.20,370.10) scale(1,1.12)" font-size="14.67" fill="#525252" text-anchor="end">4</text>
<text transform="translate(27.20,344.70) scale(1,1.12)" font-size="14.67" fill="#525252" text-anchor="end">6</text>
<text transform="translate(40.10,439.70) scale(1,1.12)" font-size="14.67" fill="#525252" text-anchor="middle">0</text>
<text transform="translate(91.50,439.70) scale(1,1.12)" font-size="14.67" fill="#525252" text-anchor="middle">2</text>
<text transform="translate(142.90,439.70) scale(1,1.12)" font-size="14.67" fill="#525252" text-anchor="middle">4</text>
<g clip-path="url(#cp21)"><rect x="200" y="413.25" width="154" height="1.3" fill="#D4D4D4"/><rect x="200" y="400.88" width="154" height="0.65" fill="#D4D4D4"/><rect x="200" y="387.85" width="154" height="1.3" fill="#D4D4D4"/><rect x="200" y="375.47" width="154" height="0.65" fill="#D4D4D4"/><rect x="200" y="362.45" width="154" height="1.3" fill="#D4D4D4"/><rect x="200" y="350.07" width="154" height="0.65" fill="#D4D4D4"/><rect x="200" y="337.05" width="154" height="1.3" fill="#D4D4D4"/><rect x="200" y="324.68" width="154" height="0.65" fill="#D4D4D4"/><rect x="200" y="311.65" width="154" height="1.3" fill="#D4D4D4"/><rect x="204.65" y="313" width="1.3" height="104" fill="#D4D4D4"/><rect x="230.68" y="313" width="0.65" height="104" fill="#D4D4D4"/><rect x="256.05" y="313" width="1.3" height="104" fill="#D4D4D4"/><rect x="282.07" y="313" width="0.65" height="104" fill="#D4D4D4"/><rect x="307.45" y="313" width="1.3" height="104" fill="#D4D4D4"/><rect x="333.48" y="313" width="0.65" height="104" fill="#D4D4D4"/></g>
<g clip-path="url(#cp21)" fill="#C77CFF"><circle cx="207.87" cy="413.89" r="3.15"/><circle cx="213.78" cy="413.58" r="3.15"/><circle cx="216.61" cy="413.10" r="3.15"/><circle cx="219.69" cy="412.62" r="3.15"/><circle cx="220.46" cy="412.24" r="3.15"/><circle cx="223.80" cy="411.86" r="3.15"/><circle cx="224.32" cy="411.48" r="3.15"/><circle cx="225.09" cy="411.17" r="3.15"/><circle cx="228.94" cy="411.00" r="3.15"/><circle cx="229.20" cy="410.84" r="3.15"/><circle cx="229.97" cy="410.67" r="3.15"/><circle cx="231.00" cy="410.35" r="3.15"/><circle cx="231.00" cy="409.87" r="3.15"/><circle cx="231.51" cy="409.39" r="3.15"/><circle cx="232.29" cy="408.91" r="3.15"/><circle cx="232.80" cy="408.42" r="3.15"/><circle cx="232.80" cy="407.94" r="3.15"/><circle cx="233.06" cy="407.46" r="3.15"/><circle cx="233.06" cy="406.98" r="3.15"/><circle cx="233.06" cy="406.50" r="3.15"/><circle cx="233.31" cy="406.02" r="3.15"/><circle cx="234.08" cy="405.57" r="3.15"/><circle cx="234.34" cy="405.12" r="3.15"/><circle cx="234.86" cy="404.67" r="3.15"/><circle cx="235.11" cy="404.22" r="3.15"/><circle cx="236.14" cy="403.79" r="3.15"/><circle cx="236.40" cy="403.37" r="3.15"/><circle cx="236.65" cy="402.94" r="3.15"/><circle cx="236.65" cy="402.51" r="3.15"/><circle cx="237.17" cy="402.09" r="3.15"/><circle cx="238.71" cy="401.66" r="3.15"/><circle cx="239.74" cy="401.08" r="3.15"/><circle cx="240.25" cy="400.34" r="3.15"/><circle cx="241.02" cy="399.61" r="3.15"/><circle cx="242.31" cy="398.87" r="3.15"/><circle cx="242.82" cy="398.14" r="3.15"/><circle cx="244.62" cy="397.41" r="3.15"/><circle cx="246.16" cy="396.74" r="3.15"/><circle cx="246.42" cy="396.06" r="3.15"/><circle cx="247.19" cy="395.38" r="3.15"/><circle cx="247.19" cy="394.71" r="3.15"/><circle cx="248.48" cy="394.03" r="3.15"/><circle cx="249.25" cy="393.36" r="3.15"/><circle cx="249.50" cy="392.68" r="3.15"/><circle cx="250.53" cy="391.97" r="3.15"/><circle cx="252.33" cy="391.16" r="3.15"/><circle cx="255.42" cy="390.35" r="3.15"/><circle cx="255.67" cy="389.54" r="3.15"/><circle cx="255.93" cy="388.72" r="3.15"/><circle cx="257.21" cy="387.78" r="3.15"/><circle cx="260.04" cy="386.63" r="3.15"/><circle cx="260.56" cy="385.48" r="3.15"/><circle cx="260.81" cy="384.34" r="3.15"/><circle cx="262.35" cy="383.19" r="3.15"/><circle cx="264.41" cy="381.80" r="3.15"/><circle cx="264.67" cy="380.34" r="3.15"/><circle cx="266.98" cy="378.87" r="3.15"/><circle cx="268.26" cy="376.49" r="3.15"/><circle cx="269.81" cy="371.42" r="3.15"/><circle cx="270.32" cy="371.13" r="3.15"/><circle cx="270.58" cy="370.84" r="3.15"/><circle cx="270.58" cy="370.08" r="3.15"/><circle cx="276.75" cy="369.31" r="3.15"/><circle cx="280.60" cy="367.41" r="3.15"/><circle cx="289.34" cy="364.49" r="3.15"/><circle cx="293.19" cy="361.06" r="3.15"/><circle cx="294.48" cy="357.00" r="3.15"/><circle cx="298.08" cy="354.46" r="3.15"/><circle cx="308.61" cy="348.36" r="3.15"/><circle cx="316.32" cy="342.39" r="3.15"/><circle cx="323.01" cy="333.25" r="3.15"/><circle cx="347.94" cy="317.63" r="3.15"/></g>
<g clip-path="url(#cp21)"><line x1="195.02" y1="419.98" x2="364.64" y2="336.16" stroke="#111" stroke-width="1"/></g>
<g fill="#1a1a1a"><rect x="200" y="313" width="1" height="106" fill="#333"/><rect x="200" y="313" width="156" height="1" fill="#333"/><rect x="354" y="313" width="2" height="106" fill="#000"/><rect x="200" y="417" width="156" height="2" fill="#000"/></g>
<text transform="translate(277.10,304.90) scale(1,1.12)" font-size="14.8" fill="#1a1a1a" text-anchor="middle">Lx</text>
<text transform="translate(203.90,439.70) scale(1,1.12)" font-size="14.67" fill="#525252" text-anchor="middle">0</text>
<text transform="translate(255.30,439.70) scale(1,1.12)" font-size="14.67" fill="#525252" text-anchor="middle">2</text>
<text transform="translate(306.70,439.70) scale(1,1.12)" font-size="14.67" fill="#525252" text-anchor="middle">4</text>
<g clip-path="url(#cp22)"><rect x="364" y="413.25" width="154" height="1.3" fill="#D4D4D4"/><rect x="364" y="400.88" width="154" height="0.65" fill="#D4D4D4"/><rect x="364" y="387.85" width="154" height="1.3" fill="#D4D4D4"/><rect x="364" y="375.47" width="154" height="0.65" fill="#D4D4D4"/><rect x="364" y="362.45" width="154" height="1.3" fill="#D4D4D4"/><rect x="364" y="350.07" width="154" height="0.65" fill="#D4D4D4"/><rect x="364" y="337.05" width="154" height="1.3" fill="#D4D4D4"/><rect x="364" y="324.68" width="154" height="0.65" fill="#D4D4D4"/><rect x="364" y="311.65" width="154" height="1.3" fill="#D4D4D4"/><rect x="368.15" y="313" width="1.3" height="104" fill="#D4D4D4"/><rect x="394.18" y="313" width="0.65" height="104" fill="#D4D4D4"/><rect x="419.55" y="313" width="1.3" height="104" fill="#D4D4D4"/><rect x="445.57" y="313" width="0.65" height="104" fill="#D4D4D4"/><rect x="470.95" y="313" width="1.3" height="104" fill="#D4D4D4"/><rect x="496.98" y="313" width="0.65" height="104" fill="#D4D4D4"/></g>
<g clip-path="url(#cp22)" fill="#F564E3"><circle cx="371.37" cy="410.72" r="3.15"/><circle cx="377.28" cy="410.31" r="3.15"/><circle cx="380.11" cy="409.65" r="3.15"/><circle cx="383.19" cy="409.00" r="3.15"/><circle cx="383.96" cy="408.38" r="3.15"/><circle cx="387.30" cy="407.84" r="3.15"/><circle cx="387.82" cy="407.31" r="3.15"/><circle cx="388.59" cy="406.78" r="3.15"/><circle cx="392.44" cy="406.37" r="3.15"/><circle cx="392.70" cy="406.08" r="3.15"/><circle cx="393.47" cy="405.78" r="3.15"/><circle cx="394.50" cy="405.30" r="3.15"/><circle cx="394.50" cy="404.61" r="3.15"/><circle cx="395.01" cy="403.93" r="3.15"/><circle cx="395.79" cy="403.25" r="3.15"/><circle cx="396.30" cy="402.57" r="3.15"/><circle cx="396.30" cy="401.89" r="3.15"/><circle cx="396.56" cy="401.20" r="3.15"/><circle cx="396.56" cy="400.52" r="3.15"/><circle cx="396.56" cy="399.84" r="3.15"/><circle cx="396.81" cy="399.16" r="3.15"/><circle cx="397.58" cy="398.65" r="3.15"/><circle cx="397.84" cy="398.14" r="3.15"/><circle cx="398.36" cy="397.64" r="3.15"/><circle cx="398.61" cy="397.13" r="3.15"/><circle cx="399.64" cy="396.66" r="3.15"/><circle cx="399.90" cy="396.32" r="3.15"/><circle cx="400.15" cy="395.98" r="3.15"/><circle cx="400.15" cy="395.65" r="3.15"/><circle cx="400.67" cy="395.31" r="3.15"/><circle cx="402.21" cy="394.97" r="3.15"/><circle cx="403.24" cy="394.63" r="3.15"/><circle cx="403.75" cy="394.20" r="3.15"/><circle cx="404.52" cy="393.67" r="3.15"/><circle cx="405.81" cy="393.15" r="3.15"/><circle cx="406.32" cy="392.62" r="3.15"/><circle cx="408.12" cy="392.10" r="3.15"/><circle cx="409.66" cy="391.68" r="3.15"/><circle cx="409.92" cy="391.31" r="3.15"/><circle cx="410.69" cy="390.94" r="3.15"/><circle cx="410.69" cy="390.57" r="3.15"/><circle cx="411.98" cy="390.21" r="3.15"/><circle cx="412.75" cy="389.84" r="3.15"/><circle cx="413.00" cy="389.47" r="3.15"/><circle cx="414.03" cy="389.10" r="3.15"/><circle cx="415.83" cy="388.71" r="3.15"/><circle cx="418.92" cy="388.29" r="3.15"/><circle cx="419.17" cy="387.88" r="3.15"/><circle cx="419.43" cy="387.47" r="3.15"/><circle cx="420.71" cy="386.96" r="3.15"/><circle cx="423.54" cy="386.30" r="3.15"/><circle cx="424.06" cy="385.64" r="3.15"/><circle cx="424.31" cy="384.99" r="3.15"/><circle cx="425.85" cy="384.33" r="3.15"/><circle cx="427.91" cy="383.58" r="3.15"/><circle cx="428.17" cy="382.68" r="3.15"/><circle cx="430.48" cy="381.77" r="3.15"/><circle cx="431.76" cy="380.87" r="3.15"/><circle cx="433.31" cy="380.02" r="3.15"/><circle cx="433.82" cy="379.18" r="3.15"/><circle cx="434.08" cy="378.33" r="3.15"/><circle cx="434.08" cy="377.44" r="3.15"/><circle cx="440.25" cy="376.55" r="3.15"/><circle cx="444.10" cy="375.41" r="3.15"/><circle cx="452.84" cy="375.16" r="3.15"/><circle cx="456.69" cy="373.51" r="3.15"/><circle cx="457.98" cy="371.85" r="3.15"/><circle cx="461.58" cy="370.33" r="3.15"/><circle cx="472.11" cy="368.55" r="3.15"/><circle cx="479.82" cy="366.39" r="3.15"/><circle cx="486.51" cy="362.71" r="3.15"/><circle cx="511.44" cy="357.88" r="3.15"/></g>
<g clip-path="url(#cp22)"><line x1="358.52" y1="419.98" x2="528.14" y2="336.16" stroke="#111" stroke-width="1"/></g>
<g fill="#1a1a1a"><rect x="364" y="313" width="1" height="106" fill="#333"/><rect x="364" y="313" width="156" height="1" fill="#333"/><rect x="518" y="313" width="2" height="106" fill="#000"/><rect x="364" y="417" width="156" height="2" fill="#000"/></g>
<text transform="translate(441.10,304.90) scale(1,1.12)" font-size="14.8" fill="#1a1a1a" text-anchor="middle">W</text>
<text transform="translate(367.40,439.70) scale(1,1.12)" font-size="14.67" fill="#525252" text-anchor="middle">0</text>
<text transform="translate(418.80,439.70) scale(1,1.12)" font-size="14.67" fill="#525252" text-anchor="middle">2</text>
<text transform="translate(470.20,439.70) scale(1,1.12)" font-size="14.67" fill="#525252" text-anchor="middle">4</text>
<g clip-path="url(#cp23)"><rect x="528" y="413.25" width="153" height="1.3" fill="#D4D4D4"/><rect x="528" y="400.88" width="153" height="0.65" fill="#D4D4D4"/><rect x="528" y="387.85" width="153" height="1.3" fill="#D4D4D4"/><rect x="528" y="375.47" width="153" height="0.65" fill="#D4D4D4"/><rect x="528" y="362.45" width="153" height="1.3" fill="#D4D4D4"/><rect x="528" y="350.07" width="153" height="0.65" fill="#D4D4D4"/><rect x="528" y="337.05" width="153" height="1.3" fill="#D4D4D4"/><rect x="528" y="324.68" width="153" height="0.65" fill="#D4D4D4"/><rect x="528" y="311.65" width="153" height="1.3" fill="#D4D4D4"/><rect x="531.75" y="313" width="1.3" height="104" fill="#D4D4D4"/><rect x="557.77" y="313" width="0.65" height="104" fill="#D4D4D4"/><rect x="583.15" y="313" width="1.3" height="104" fill="#D4D4D4"/><rect x="609.17" y="313" width="0.65" height="104" fill="#D4D4D4"/><rect x="634.55" y="313" width="1.3" height="104" fill="#D4D4D4"/><rect x="660.57" y="313" width="0.65" height="104" fill="#D4D4D4"/></g>
<g clip-path="url(#cp23)" fill="#FF64B0"><circle cx="534.97" cy="410.08" r="3.15"/><circle cx="540.88" cy="408.84" r="3.15"/><circle cx="543.71" cy="408.06" r="3.15"/><circle cx="546.79" cy="407.29" r="3.15"/><circle cx="547.56" cy="406.82" r="3.15"/><circle cx="550.90" cy="406.35" r="3.15"/><circle cx="551.42" cy="405.88" r="3.15"/><circle cx="552.19" cy="405.41" r="3.15"/><circle cx="556.04" cy="405.07" r="3.15"/><circle cx="556.30" cy="404.79" r="3.15"/><circle cx="557.07" cy="404.51" r="3.15"/><circle cx="558.10" cy="404.00" r="3.15"/><circle cx="558.10" cy="403.25" r="3.15"/><circle cx="558.61" cy="402.51" r="3.15"/><circle cx="559.38" cy="401.77" r="3.15"/><circle cx="559.90" cy="401.02" r="3.15"/><circle cx="559.90" cy="400.28" r="3.15"/><circle cx="560.16" cy="399.54" r="3.15"/><circle cx="560.16" cy="399.22" r="3.15"/><circle cx="560.16" cy="398.90" r="3.15"/><circle cx="560.41" cy="398.58" r="3.15"/><circle cx="561.18" cy="398.25" r="3.15"/><circle cx="561.44" cy="397.93" r="3.15"/><circle cx="561.95" cy="397.61" r="3.15"/><circle cx="562.21" cy="397.29" r="3.15"/><circle cx="563.24" cy="396.95" r="3.15"/><circle cx="563.50" cy="396.60" r="3.15"/><circle cx="563.75" cy="396.25" r="3.15"/><circle cx="563.75" cy="395.90" r="3.15"/><circle cx="564.27" cy="395.55" r="3.15"/><circle cx="565.81" cy="395.19" r="3.15"/><circle cx="566.84" cy="394.84" r="3.15"/><circle cx="567.35" cy="394.40" r="3.15"/><circle cx="568.12" cy="393.96" r="3.15"/><circle cx="569.41" cy="393.51" r="3.15"/><circle cx="569.92" cy="393.07" r="3.15"/><circle cx="571.72" cy="392.63" r="3.15"/><circle cx="573.26" cy="392.29" r="3.15"/><circle cx="573.52" cy="391.97" r="3.15"/><circle cx="574.29" cy="391.65" r="3.15"/><circle cx="574.29" cy="391.34" r="3.15"/><circle cx="575.58" cy="391.02" r="3.15"/><circle cx="576.35" cy="390.70" r="3.15"/><circle cx="576.60" cy="390.38" r="3.15"/><circle cx="577.63" cy="390.06" r="3.15"/><circle cx="579.43" cy="389.60" r="3.15"/><circle cx="582.51" cy="389.12" r="3.15"/><circle cx="582.77" cy="388.63" r="3.15"/><circle cx="583.03" cy="388.15" r="3.15"/><circle cx="584.31" cy="387.62" r="3.15"/><circle cx="587.14" cy="387.04" r="3.15"/><circle cx="587.65" cy="386.46" r="3.15"/><circle cx="587.91" cy="385.88" r="3.15"/><circle cx="589.45" cy="385.30" r="3.15"/><circle cx="591.51" cy="384.58" r="3.15"/><circle cx="591.77" cy="383.64" r="3.15"/><circle cx="594.08" cy="382.70" r="3.15"/><circle cx="595.37" cy="381.76" r="3.15"/><circle cx="596.91" cy="380.96" r="3.15"/><circle cx="597.42" cy="380.15" r="3.15"/><circle cx="597.68" cy="379.35" r="3.15"/><circle cx="597.68" cy="378.40" r="3.15"/><circle cx="603.85" cy="377.44" r="3.15"/><circle cx="607.70" cy="376.81" r="3.15"/><circle cx="616.44" cy="375.54" r="3.15"/><circle cx="620.29" cy="374.65" r="3.15"/><circle cx="621.58" cy="372.62" r="3.15"/><circle cx="625.18" cy="370.33" r="3.15"/><circle cx="635.71" cy="368.55" r="3.15"/><circle cx="643.42" cy="365.76" r="3.15"/><circle cx="650.11" cy="361.82" r="3.15"/><circle cx="675.03" cy="355.22" r="3.15"/></g>
<g clip-path="url(#cp23)"><line x1="522.12" y1="419.98" x2="691.74" y2="336.16" stroke="#111" stroke-width="1"/></g>
<g fill="#1a1a1a"><rect x="528" y="313" width="1" height="106" fill="#333"/><rect x="528" y="313" width="155" height="1" fill="#333"/><rect x="681" y="313" width="2" height="106" fill="#000"/><rect x="528" y="417" width="155" height="2" fill="#000"/></g>
<text transform="translate(604.60,304.90) scale(1,1.12)" font-size="14.8" fill="#1a1a1a" text-anchor="middle">Ga</text>
<text transform="translate(531.00,439.70) scale(1,1.12)" font-size="14.67" fill="#525252" text-anchor="middle">0</text>
<text transform="translate(582.40,439.70) scale(1,1.12)" font-size="14.67" fill="#525252" text-anchor="middle">2</text>
<text transform="translate(633.80,439.70) scale(1,1.12)" font-size="14.67" fill="#525252" text-anchor="middle">4</text>
<text transform="translate(358.00,457.80) scale(1,1.02)" font-size="12.4" fill="#000" text-anchor="middle" stroke="#000" stroke-width="0.12">Empirical Quantiles</text>
<text transform="translate(12.70,219.80) rotate(-90) scale(1,0.98)" font-size="12.4" fill="#000" text-anchor="middle" stroke="#000" stroke-width="0.12">Theoretical Quantiles</text>
</svg></body></html>
